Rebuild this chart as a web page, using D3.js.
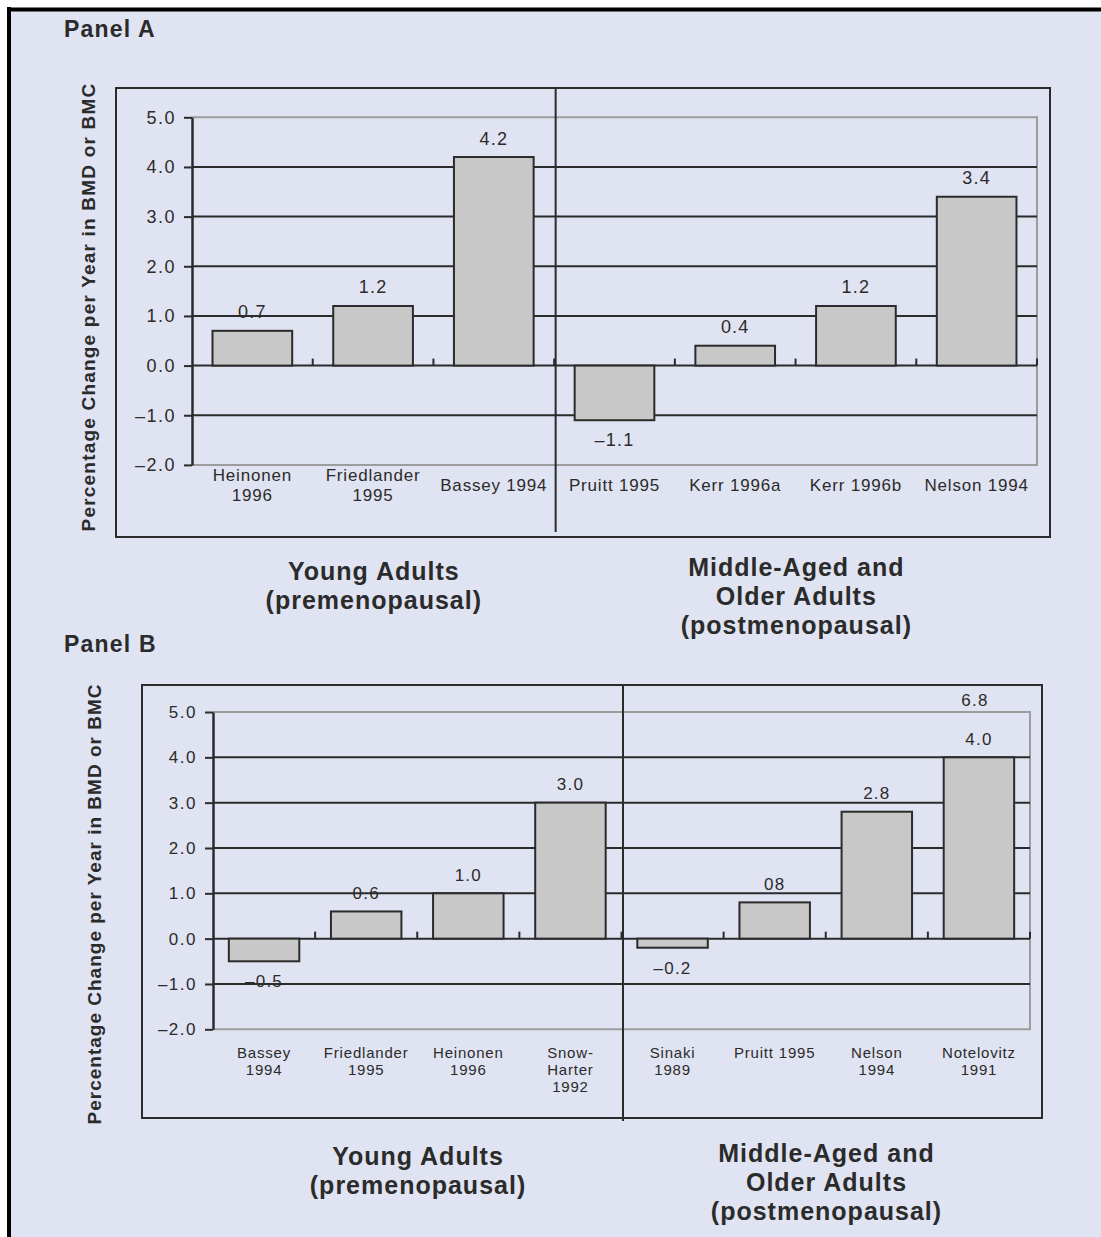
<!DOCTYPE html>
<html>
<head>
<meta charset="utf-8">
<script src="https://cdn.jsdelivr.net/npm/d3@7"></script>
<style>
  html, body { margin: 0; padding: 0; background: #ffffff; }
  svg { display: block; }
  text { font-family: "Liberation Sans", Arial, Helvetica, sans-serif; fill: #2b2b2b; }
</style>
</head>
<body>
<svg id="chart" width="1101" height="1237"></svg>
<script>
// ---------------- DATA ----------------
const yTicks = [5, 4, 3, 2, 1, 0, -1, -2];
const yTickLabels = ["5.0", "4.0", "3.0", "2.0", "1.0", "0.0", "\u20131.0", "\u20132.0"];
const yTitle = "Percentage Change per Year in BMD or BMC";

const panelACategories = [["Heinonen", "1996"], ["Friedlander", "1995"], ["Bassey 1994"],
  ["Pruitt 1995"], ["Kerr 1996a"], ["Kerr 1996b"], ["Nelson 1994"]];
const panelAValues = [0.7, 1.2, 4.2, -1.1, 0.4, 1.2, 3.4];
const panelALabels = ["0.7", "1.2", "4.2", "\u20131.1", "0.4", "1.2", "3.4"];

const panelBCategories = [["Bassey", "1994"], ["Friedlander", "1995"], ["Heinonen", "1996"],
  ["Snow-", "Harter", "1992"], ["Sinaki", "1989"], ["Pruitt 1995"], ["Nelson", "1994"], ["Notelovitz", "1991"]];
const panelBValues = [-0.5, 0.6, 1.0, 3.0, -0.2, 0.8, 2.8, 4.0];
const panelBLabels = ["\u20130.5", "0.6", "1.0", "3.0", "\u20130.2", "08", "2.8", "4.0"];
const panelBExtraLabels = ["", "", "", "", "", "", "", "6.8"]; // off-scale true value

const groupLeft = ["Young Adults", "(premenopausal)"];
const groupRight = ["Middle-Aged and", "Older Adults", "(postmenopausal)"];

// ---------------- DRAW ----------------
const svg = d3.select("#chart");
const BG = "#e0e3f1", DARK = "#2b2b2b", FRAME = "#9c9c9c", BAR = "#c8c8c8";

svg.append("rect").attr("x", 0).attr("y", 0).attr("width", 1101).attr("height", 1237).attr("fill", "#ffffff");
svg.append("rect").attr("x", 9).attr("y", 9).attr("width", 1092).attr("height", 1228).attr("fill", BG);
// page border (top & left)
svg.append("line").attr("x1", 7).attr("x2", 1101).attr("y1", 9.5).attr("y2", 9.5).attr("stroke", "#000").attr("stroke-width", 4);
svg.append("line").attr("x1", 9).attr("x2", 9).attr("y1", 7).attr("y2", 1237).attr("stroke", "#000").attr("stroke-width", 4);

function panel(cfg) {
  const g = svg.append("g");
  // panel title
  g.append("text").attr("x", cfg.titleX).attr("y", cfg.titleY).text(cfg.title)
    .attr("font-size", 23).attr("font-weight", "bold").attr("letter-spacing", 1.2);

  // outer box
  g.append("rect").attr("x", cfg.box[0]).attr("y", cfg.box[1])
    .attr("width", cfg.box[2] - cfg.box[0]).attr("height", cfg.box[3] - cfg.box[1])
    .attr("fill", "none").attr("stroke", DARK).attr("stroke-width", 2);

  const x = d3.scaleBand().domain(d3.range(cfg.values.length))
    .range([cfg.plotX0, cfg.plotX1]).paddingInner(cfg.pad).paddingOuter(cfg.pad / 2);
  const y = d3.scaleLinear().domain([-2, 5]).range([cfg.yBottom, cfg.yTop]);

  // gray frame of plot area (top at 5, right, bottom at -2)
  g.append("path")
    .attr("d", `M${cfg.plotX0},${y(5)} H${cfg.plotX1} V${y(-2)} H${cfg.plotX0}`)
    .attr("fill", "none").attr("stroke", FRAME).attr("stroke-width", 2);

  // dark gridlines
  g.selectAll(".grid").data(yTicks.filter(t => t < 5 && t > -2)).enter().append("line")
    .attr("x1", cfg.plotX0).attr("x2", cfg.plotX1)
    .attr("y1", d => y(d)).attr("y2", d => y(d))
    .attr("stroke", DARK).attr("stroke-width", 2);

  // y axis via d3.axisLeft
  const axis = d3.axisLeft(y).tickValues(yTicks)
    .tickFormat((d, i) => yTickLabels[i]).tickSizeInner(8).tickSizeOuter(0).tickPadding(8);
  const ag = g.append("g").attr("transform", `translate(${cfg.plotX0},0)`).call(axis);
  ag.select(".domain").attr("stroke", DARK).attr("stroke-width", 2.5);
  ag.selectAll(".tick line").attr("stroke", DARK).attr("stroke-width", 2);
  ag.selectAll(".tick text").attr("font-size", cfg.tickFont).attr("letter-spacing", cfg.tickLS)
    .attr("fill", DARK).attr("font-family", "Liberation Sans, Arial, sans-serif");

  // bars
  g.selectAll(".bar").data(cfg.values).enter().append("rect")
    .attr("x", (d, i) => x(i)).attr("width", x.bandwidth())
    .attr("y", d => y(Math.max(0, d))).attr("height", d => Math.abs(y(d) - y(0)))
    .attr("fill", BAR).attr("stroke", DARK).attr("stroke-width", 2);

  // small ticks on zero line at category boundaries
  const step = x.step();
  const bounds = d3.range(1, cfg.values.length + 1).map(k => cfg.plotX0 + k * step);
  g.selectAll(".zt").data(bounds).enter().append("line")
    .attr("x1", d => d).attr("x2", d => d).attr("y1", y(0)).attr("y2", y(0) - 7)
    .attr("stroke", DARK).attr("stroke-width", 2);

  // divider
  const divX = cfg.plotX0 + cfg.split * step + 1.5;
  g.append("line").attr("x1", divX).attr("x2", divX).attr("y1", cfg.box[1]).attr("y2", cfg.divBottom)
    .attr("stroke", DARK).attr("stroke-width", 2);

  // value labels
  g.selectAll(".vl").data(cfg.values).enter().append("text")
    .attr("x", (d, i) => x(i) + x.bandwidth() / 2)
    .attr("y", d => d >= 0 ? y(d) - 12.5 : y(d) + 26)
    .attr("text-anchor", "middle").attr("font-size", cfg.valFont).attr("letter-spacing", cfg.valLS)
    .text((d, i) => cfg.labels[i]);
  if (cfg.extra) {
    g.selectAll(".ex").data(cfg.values).enter().append("text")
      .attr("x", (d, i) => x(i) + x.bandwidth() / 2 - 4)
      .attr("y", d => y(d) - 51)
      .attr("text-anchor", "middle").attr("font-size", cfg.valFont).attr("letter-spacing", cfg.valLS)
      .text((d, i) => cfg.extra[i]);
  }

  // category labels
  cfg.cats.forEach((lines, i) => {
    const n = lines.length;
    const t = g.append("text").attr("text-anchor", "middle")
      .attr("font-size", cfg.catFont).attr("letter-spacing", cfg.catLS);
    const cx = x(i) + x.bandwidth() / 2;
    const y0 = cfg.catCenter ? cfg.catY + (cfg.catMax - n) * cfg.catLH / 2 : cfg.catY;
    lines.forEach((s, j) => {
      t.append("tspan").attr("x", cx).attr("y", y0 + j * cfg.catLH).text(s);
    });
  });

  // y axis title
  g.append("text")
    .attr("transform", `translate(${cfg.yTitleX},${cfg.yTitleY}) rotate(-90)`)
    .attr("text-anchor", "middle").attr("font-size", cfg.yTitleFont).attr("font-weight", "bold")
    .attr("letter-spacing", cfg.yTitleLS).text(yTitle);

  // group labels
  const leftC = (cfg.plotX0 + divX) / 2, rightC = (divX + cfg.plotX1) / 2;
  function groupLabel(lines, cx, y0) {
    const t = g.append("text").attr("text-anchor", "middle").attr("font-size", 25)
      .attr("font-weight", "bold").attr("letter-spacing", 1.0);
    lines.forEach((s, j) => t.append("tspan").attr("x", cx).attr("y", y0 + j * 29).text(s));
  }
  groupLabel(groupLeft, leftC, cfg.groupLeftY);
  groupLabel(groupRight, rightC, cfg.groupRightY);
}

panel({
  title: "Panel A", titleX: 64, titleY: 37,
  box: [116, 88, 1050, 537], plotX0: 192, plotX1: 1037, yTop: 117.3, yBottom: 464.9,
  values: panelAValues, labels: panelALabels, cats: panelACategories, pad: 0.34,
  split: 3, divBottom: 532,
  tickFont: 18, tickLS: 1.5, valFont: 18, valLS: 1.2,
  catFont: 17, catLS: 0.8, catY: 481, catLH: 20, catCenter: true, catMax: 2,
  yTitleX: 95, yTitleY: 307, yTitleFont: 19, yTitleLS: 1.2,
  groupLeftY: 580, groupRightY: 576
});

panel({
  title: "Panel B", titleX: 64, titleY: 652,
  box: [142, 685, 1042, 1118], plotX0: 213, plotX1: 1030, yTop: 712, yBottom: 1029.3,
  values: panelBValues, labels: panelBLabels, extra: panelBExtraLabels, cats: panelBCategories, pad: 0.31,
  split: 4, divBottom: 1121,
  tickFont: 17, tickLS: 1.5, valFont: 17, valLS: 1.2,
  catFont: 15, catLS: 0.8, catY: 1058, catLH: 17, catCenter: false, catMax: 3,
  yTitleX: 101, yTitleY: 904, yTitleFont: 19, yTitleLS: 1.0,
  groupLeftY: 1165, groupRightY: 1162
});
</script>
</body>
</html>
